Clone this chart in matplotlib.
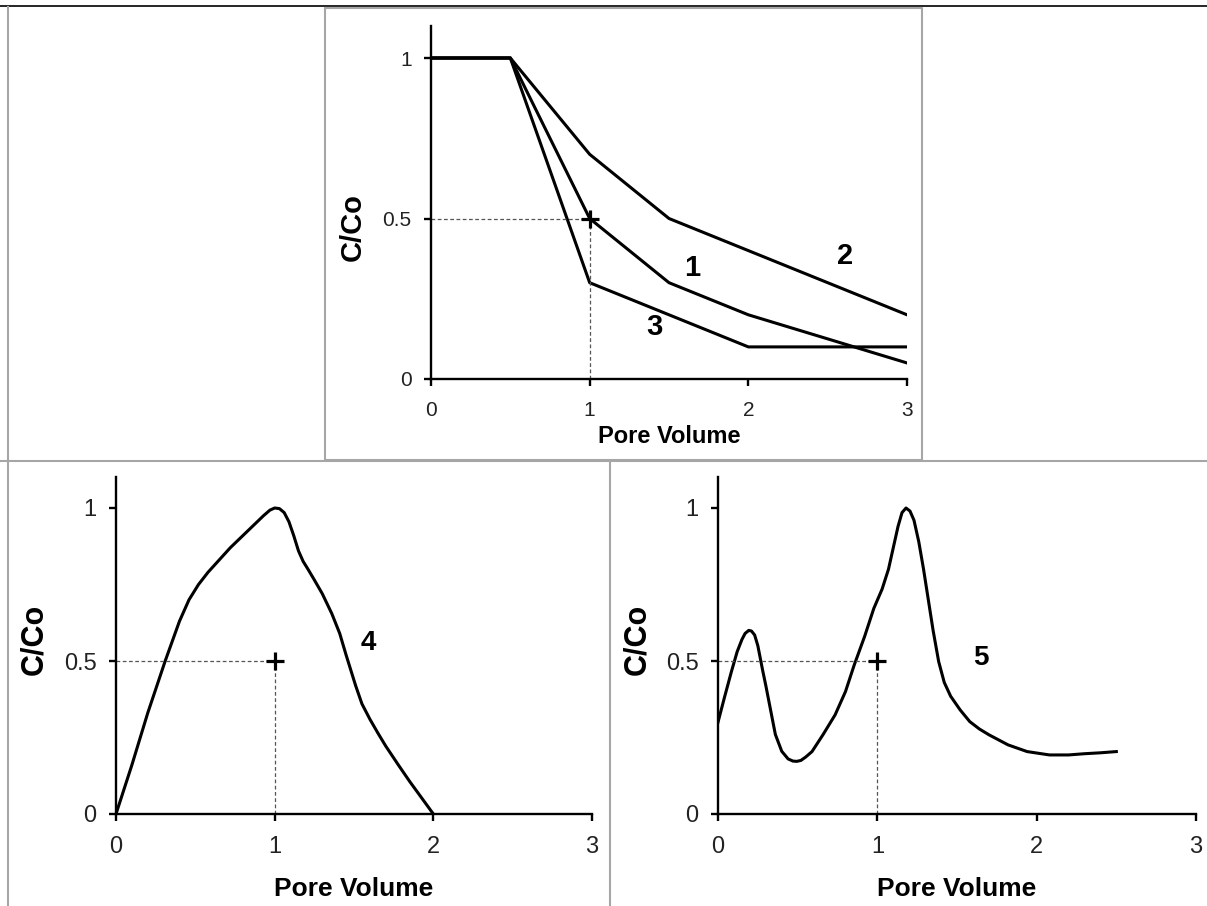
import matplotlib
matplotlib.use("Agg")
import matplotlib.pyplot as plt
from matplotlib.lines import Line2D

plt.rcParams['font.family'] = ['Liberation Sans', 'DejaVu Sans']

# top panel: breakthrough curves 1-3
pv_top = [0, 0.5, 1, 1.5, 2, 3]
curve1 = [1, 1, 0.5, 0.3, 0.2, 0.05]
curve2 = [1, 1, 0.7, 0.5, 0.4, 0.2]
curve3 = [1, 1, 0.3, 0.2, 0.1, 0.1]

# bottom-left: curve 4
pv4 = [0, 0.1, 0.2, 0.31, 0.4, 0.46, 0.52, 0.58, 0.65, 0.72, 0.8, 0.87, 0.93,
       0.97, 1.0, 1.03, 1.06, 1.09, 1.12, 1.15, 1.18, 1.21, 1.25, 1.3, 1.36,
       1.41, 1.45, 1.48, 1.51, 1.55, 1.6, 1.65, 1.7, 1.78, 1.85, 1.93, 2.0]
c4 = [0, 0.16, 0.33, 0.50, 0.63, 0.70, 0.75, 0.79, 0.83, 0.87, 0.91, 0.945,
      0.975, 0.993, 1.0, 0.998, 0.985, 0.955, 0.91, 0.86, 0.825, 0.80, 0.765,
      0.72, 0.655, 0.59, 0.52, 0.47, 0.42, 0.36, 0.31, 0.265, 0.222, 0.16,
      0.107, 0.05, 0]

# bottom-right: curve 5
pv5 = [0, 0.04, 0.084, 0.12, 0.15, 0.17, 0.193, 0.21, 0.23, 0.25, 0.28, 0.30,
       0.33, 0.36, 0.40, 0.44, 0.47, 0.494, 0.52, 0.55, 0.59, 0.66, 0.735,
       0.80, 0.855, 0.92, 0.978, 1.03, 1.07, 1.10, 1.13, 1.155, 1.18, 1.205,
       1.23, 1.26, 1.29, 1.32, 1.35, 1.385, 1.42, 1.46, 1.52, 1.58, 1.64, 1.70,
       1.82, 1.94, 2.08, 2.2, 2.3, 2.4, 2.5]
c5 = [0.30, 0.38, 0.465, 0.53, 0.57, 0.59, 0.60, 0.598, 0.585, 0.55, 0.47,
      0.42, 0.34, 0.26, 0.205, 0.18, 0.173, 0.172, 0.175, 0.186, 0.204, 0.26,
      0.324, 0.40, 0.487, 0.58, 0.672, 0.735, 0.80, 0.87, 0.94, 0.985, 1.0,
      0.99, 0.96, 0.89, 0.80, 0.70, 0.60, 0.498, 0.43, 0.385, 0.34, 0.302,
      0.278, 0.259, 0.226, 0.204, 0.193, 0.193, 0.197, 0.20, 0.204]

x_ticks = [0, 1, 2, 3]
y_ticks = [0, 0.5, 1]
y_ticklabels = ['0', '0.5', '1']

W, H = 1207, 906
fig = plt.figure(figsize=(W / 100, H / 100), dpi=100)


def px_axes(x0, x3, y0, y1):
    # axes box from pixel positions of x=0, x=3, y=0, y=1
    unit_y = y0 - y1
    return [x0 / W, (H - y0) / H, (x3 - x0) / W, 1.1 * unit_y / H]


def style(ax, tick_fs, xlab_fs, ylab_fs, xlab_y, ylab_x, ylab_y):
    ax.set_xlim(0, 3)
    ax.set_ylim(0, 1.1)
    for s in ['top', 'right']:
        ax.spines[s].set_visible(False)
    for s in ['left', 'bottom']:
        ax.spines[s].set_linewidth(1.7)
    ax.set_xticks(x_ticks)
    ax.set_yticks(y_ticks)
    ax.set_yticklabels(y_ticklabels)
    ax.tick_params(direction='out', length=5, width=1.7, labelsize=tick_fs,
                   labelcolor='#222222')
    ax.tick_params(axis='x', pad=11)
    ax.tick_params(axis='y', pad=9)
    ax.set_xlabel('Pore Volume', fontsize=xlab_fs, fontweight='bold')
    ax.set_ylabel('C/Co', fontsize=ylab_fs, fontweight='bold')
    ax.xaxis.set_label_coords(0.5, xlab_y)
    ax.xaxis.label.set_va('center')
    ax.yaxis.set_label_coords(ylab_x, ylab_y)
    ax.yaxis.label.set_va('center')
    # reference lines to the point (1, 0.5)
    ax.plot([0, 1], [0.5, 0.5], ls=(0, (3, 2)), color='#555555', lw=0.9)
    ax.plot([1, 1], [0, 0.5], ls=(0, (3, 2)), color='#555555', lw=0.9)
    ax.plot([1], [0.5], marker='+', ms=13, mew=2.3, color='black', zorder=5)


# top panel
ax1 = fig.add_axes(px_axes(431, 907, 379, 58))
ax1.plot(pv_top, curve1, color='black', lw=2.2)
ax1.plot(pv_top, curve2, color='black', lw=2.2)
ax1.plot(pv_top, curve3, color='black', lw=2.2)
style(ax1, 15, 17, 21, -0.163, -0.165, 0.43)
ax1.text(1.645, 0.345, '1', fontsize=21, fontweight='bold', ha='center', va='center')
ax1.text(2.61, 0.383, '2', fontsize=21, fontweight='bold', ha='center', va='center')
ax1.text(1.41, 0.162, '3', fontsize=21, fontweight='bold', ha='center', va='center')

# bottom-left panel
ax2 = fig.add_axes(px_axes(116, 592, 814, 508))
ax2.plot(pv4, c4, color='black', lw=2.2)
style(ax2, 17, 19, 22, -0.222, -0.172, 0.52)
ax2.text(1.59, 0.56, '4', fontsize=20, fontweight='bold', ha='center', va='center')

# bottom-right panel
ax3 = fig.add_axes(px_axes(718, 1196, 814, 508))
ax3.plot(pv5, c5, color='black', lw=2.2)
style(ax3, 17, 19, 22, -0.222, -0.168, 0.52)
ax3.text(1.65, 0.51, '5', fontsize=20, fontweight='bold', ha='center', va='center')

# panel frames
def fline(xs, ys, color, lw):
    fig.add_artist(Line2D([x / W for x in xs], [1 - y / H for y in ys],
                          color=color, lw=lw, transform=fig.transFigure))

gray = '#a6a6a6'
fline([0, W], [6, 6], 'black', 1.2)
fline([8, 8], [7, H], gray, 1.5)
fline([0, W], [460.5, 460.5], gray, 1.5)
fline([610, 610], [461, H], gray, 1.5)
fline([325, 922, 922, 325, 325], [8, 8, 460, 460, 8], gray, 1.5)

fig.savefig('out.png', dpi=100)
